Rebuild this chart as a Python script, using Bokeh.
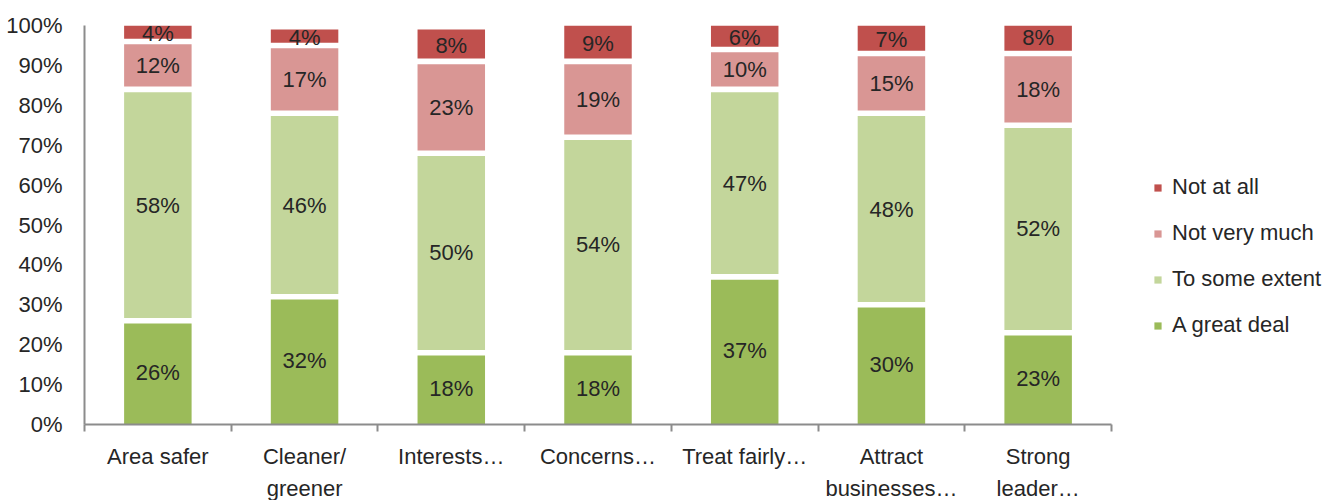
import numpy as np
from bokeh.plotting import figure
from bokeh.models import (Range1d, FixedTicker, Legend, LegendItem, ColumnDataSource)
from bokeh.embed import file_html
from bokeh.resources import INLINE
from bokeh.core.properties import value

# ---------------- data ----------------
categories = ["Area safer", "Cleaner/\ngreener", "Interests\u2026", "Concerns\u2026",
              "Treat fairly\u2026", "Attract\nbusinesses\u2026", "Strong\nleader\u2026"]
great_deal = [26, 32, 18, 18, 37, 30, 23]
some_extent = [58, 46, 50, 54, 47, 48, 52]
not_very_much = [12, 17, 23, 19, 10, 15, 18]
not_at_all = [4, 4, 8, 9, 6, 7, 8]
series_names = ["A great deal", "To some extent", "Not very much", "Not at all"]
series_colors = ["#9BBB59", "#C3D69B", "#D99694", "#C0504D"]
y_ticks = [0, 10, 20, 30, 40, 50, 60, 70, 80, 90, 100]

FONT = "Liberation Sans"
TXT = "#262626"
AXIS = "#8C8C8C"

n = len(categories)
centers = [i + 0.5 for i in range(n)]
boundaries = list(range(n + 1))
series = [great_deal, some_extent, not_very_much, not_at_all]
cum = np.cumsum(np.array(series, dtype=float), axis=0)
half_gap = 0.7

p = figure(frame_width=1027, frame_height=399, output_backend="svg", toolbar_location=None,
           x_range=Range1d(0, n), y_range=Range1d(0, 100),
           min_border_left=84, min_border_right=0, min_border_top=25, min_border_bottom=76)
p.outline_line_color = None
p.xgrid.visible = False
p.ygrid.visible = False
p.background_fill_color = "white"
p.border_fill_color = "white"

renderers = []
for i, (name, vals, col) in enumerate(zip(series_names, series, series_colors)):
    prev = cum[i - 1] if i > 0 else np.zeros(n)
    bottom = prev + (half_gap if i > 0 else 0)
    top = cum[i] - (half_gap if i < len(series) - 1 else 0)
    src = ColumnDataSource(dict(x=centers, bottom=bottom, top=top,
                                ymid=(prev + cum[i]) / 2,
                                lab=[f"{v}%" for v in vals]))
    r = p.vbar(x="x", bottom="bottom", top="top", width=0.46, source=src,
               fill_color=col, line_color=None)
    renderers.append(r)
    p.text(x="x", y="ymid", text="lab", source=src, text_align="center",
           text_baseline="middle", text_font=value(FONT), text_font_size="22px",
           text_color=TXT)

# y axis
p.yaxis.ticker = FixedTicker(ticks=y_ticks)
p.yaxis.major_label_overrides = {t: f"{t}%" for t in y_ticks}
p.yaxis.major_tick_out = 0
p.yaxis.major_tick_in = 0
p.yaxis.minor_tick_out = 0
p.yaxis.minor_tick_in = 0
p.yaxis.major_label_standoff = 22
p.yaxis.axis_line_color = AXIS
p.yaxis.axis_line_width = 2
p.yaxis.major_label_text_font = FONT
p.yaxis.major_label_text_font_size = "22px"
p.yaxis.major_label_text_color = TXT

# x axis: labels at category centres, tick marks (minor) at boundaries
p.xaxis.ticker = FixedTicker(ticks=centers, minor_ticks=boundaries)
p.xaxis.major_label_overrides = {c: lab for c, lab in zip(centers, categories)}
p.xaxis.major_tick_out = 0
p.xaxis.major_tick_in = 0
p.xaxis.minor_tick_out = 7
p.xaxis.minor_tick_in = 0
p.xaxis.minor_tick_line_color = AXIS
p.xaxis.minor_tick_line_width = 2
p.xaxis.axis_line_color = AXIS
p.xaxis.axis_line_width = 2
p.xaxis.major_label_standoff = 12
p.xaxis.major_label_text_font = FONT
p.xaxis.major_label_text_font_size = "22px"
p.xaxis.major_label_text_color = TXT
p.xaxis.major_label_text_line_height = 1.3

legend = Legend(items=[LegendItem(label=series_names[i], renderers=[renderers[i]])
                       for i in reversed(range(len(series)))],
                location=(42, 86), orientation="vertical",
                border_line_color=None, background_fill_alpha=0,
                padding=0, margin=0, glyph_width=9, glyph_height=9,
                label_height=20, spacing=20, label_standoff=10,
                label_text_font=FONT, label_text_font_size="22px",
                label_text_color=TXT)
p.add_layout(legend, "right")

open("out.html", "w").write(file_html(p, INLINE))
